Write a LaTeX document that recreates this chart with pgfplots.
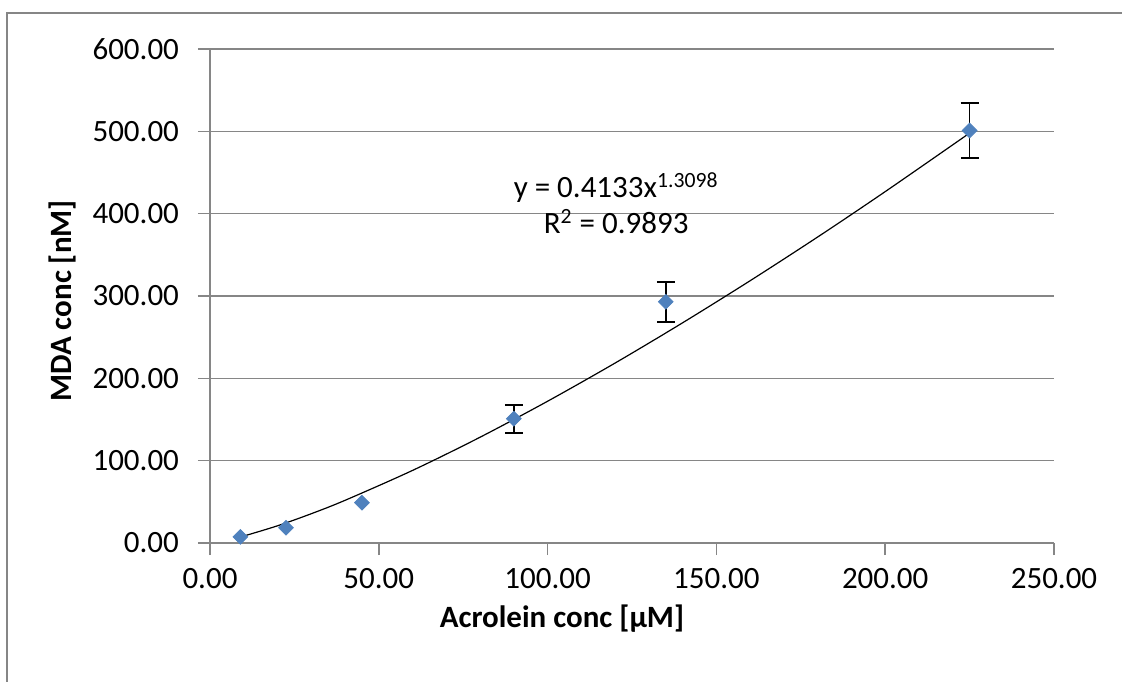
\documentclass[border=0pt]{standalone}
\usepackage{fontspec}
\setmainfont{Carlito}
\usepackage{pgfplots}
\pgfplotsset{compat=1.18}
\definecolor{exblue}{HTML}{4F81BD}
\definecolor{exgray}{HTML}{868686}
\begin{document}
\begin{tikzpicture}
\begin{axis}[
  scale only axis,
  width=422pt, height=247pt,
  xmin=0, xmax=250, ymin=0, ymax=600,
  xtick={0,50,100,150,200,250},
  ytick={0,100,200,300,400,500,600},
  axis x line*=bottom, axis y line*=left,
  axis line style={exgray, line width=0.75pt},
  tick style={exgray, line width=0.75pt},
  tick align=outside,
  major tick length=6pt,
  ymajorgrids,
  grid style={exgray, line width=0.75pt},
  /pgf/number format/fixed,
  /pgf/number format/fixed zerofill,
  /pgf/number format/precision=2,
  /pgf/number format/1000 sep={},
  /pgf/number format/assume math mode=true,
  tick label style={font=\fontsize{15.5pt}{18pt}\selectfont},
  yticklabel style={xshift=-6pt},
  xticklabel style={yshift=-3pt},
  label style={font=\bfseries\fontsize{15.5pt}{18pt}\selectfont},
  xlabel={Acrolein conc [µM]},
  ylabel={MDA conc [nM]},
  xlabel style={at={(axis description cs:0.417,-0.153)}, anchor=center},
  ylabel style={at={(axis description cs:-0.175,0.49)}, anchor=center},
  clip=false,
]
% trendline y = 0.4133 x^1.3098 (tabulated)
\addplot[black, line width=0.6pt, smooth] coordinates {
  (9,7.35) (10,8.44) (20,20.91) (30,35.57) (40,51.84) (60,88.18) (80,128.5)
  (100,172.2) (120,218.6) (140,267.5) (160,318.6) (180,371.7) (200,426.8) (225,497.9)
};
\addplot[only marks, mark=square*, mark size=2.6pt,
  mark options={rotate=45, fill=exblue, draw=exblue}]
  coordinates {
  (9,7.5)
  (22.5,18.5)
  (45,49)
};
\addplot[only marks, mark=square*, mark size=2.6pt,
  mark options={rotate=45, fill=exblue, draw=exblue},
  error bars/.cd, y dir=both, y explicit,
  error bar style={black, line width=0.8pt},
  error mark options={black, line width=1pt, mark size=4.5pt, rotate=90}]
  coordinates {
  (90,151) +- (0,17)
  (135,293) +- (0,24)
  (225,501) +- (0,33)
};
\node[font=\fontsize{15.5pt}{18pt}\selectfont, align=center] at (axis cs:120.3,412.5)
  {y = 0.4133x\textsuperscript{1.3098}\\R\textsuperscript{2} = 0.9893};
\end{axis}
\pgfresetboundingbox
\path[use as bounding box] ([shift={(-105pt,-69pt)}]current axis.south west) rectangle ([shift={(456pt,271.5pt)}]current axis.south west);
\draw[exgray, line width=1pt] ([shift={(-101.5pt,-80pt)}]current axis.south west) |- ([shift={(480pt,265pt)}]current axis.south west);
\end{tikzpicture}
\end{document}
